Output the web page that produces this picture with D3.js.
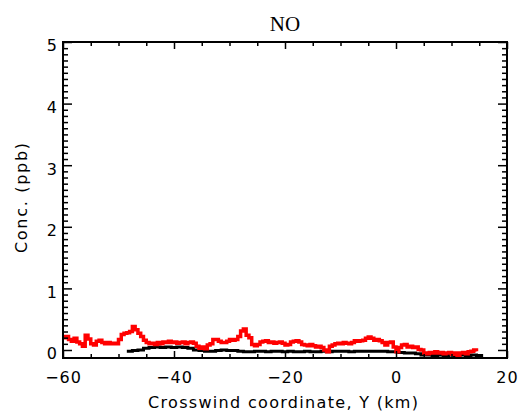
<!DOCTYPE html>
<html>
<head>
<meta charset="utf-8">
<script src="https://cdn.jsdelivr.net/npm/d3@7"></script>
<style>
  html, body { margin: 0; padding: 0; background: #fff; }
  svg { display: block; }
  .tick text { font-family: "DejaVu Sans", sans-serif; }
</style>
</head>
<body>
<svg id="chart" width="518" height="413"></svg>
<script>
// Crosswind positions (km) and NO concentrations (ppb)
const redY = d3.range(0, 150).map(i => -60 + i * 0.5);
const redConc = [
  0.20,0.22,0.17,0.14,0.19,0.13,0.10,0.06,0.24,0.18,
  0.10,0.08,0.14,0.16,0.12,0.10,0.12,0.10,0.11,0.10,
  0.17,0.25,0.27,0.28,0.30,0.38,0.33,0.27,0.22,0.16,
  0.12,0.10,0.11,0.09,0.12,0.10,0.13,0.12,0.14,0.12,
  0.13,0.11,0.12,0.13,0.10,0.12,0.13,0.11,0.06,0.03,
  0.05,0.02,0.08,0.10,
  0.17,0.17,0.14,0.12,0.12,0.14,0.17,0.16,0.17,0.22,
  0.31,0.34,0.24,0.20,0.09,0.07,0.09,0.13,0.14,0.15,
  0.12,0.13,0.11,0.12,0.13,0.11,0.08,0.09,0.13,0.14,
  0.15,0.13,0.09,0.08,0.07,0.09,0.07,0.05,0.06,0.04,
  0.00,-0.03,0.06,0.08,0.10,0.11,0.10,0.12,0.11,0.10,
  0.12,0.15,0.14,0.15,0.16,0.19,0.21,0.19,0.16,0.17,
  0.15,0.12,0.08,0.12,0.13,0.05,-0.03,0.04,0.08,0.09,
  0.05,0.06,0.04,0.05,0.01,0.00,-0.05,-0.06,-0.04,-0.05,
  -0.03,-0.05,-0.04,-0.06,-0.05,-0.04,-0.07,-0.05,-0.09,-0.05,
  -0.04,-0.06,-0.03,-0.02,0.00,-0.02
];

const blackY = [
  -48.5,-47.5,-46.5,-45.5,-44.5,-43.5,-42.5,-41.5,-40.5,-39.5,
  -38.5,-37.5,-36.5,-35.5,-34.5,-33.5,-32.5,-31.5,-30.5,-29.5,
  -28.5,-27.5,-26.5,-25.5,-24.5,-23.5,-22.5,-21.5,-20.5,-19.5,
  -18.5,-17.5,-16.5,-15.5,-14.5,-13.5,-12.5,-11.5,-10.5,-9.5,
  -8.5,-7.5,-6.5,-5.5,-4.5,-3.5,-2.5,-1.5,-0.5,0.5,
  1.5,2.5,3.5,4.5,5.5,6.5,7.5,8.5,9.5,10.5,
  11.5,12.5,13.5,14.5,15.7
];
const blackConc = [
  -0.02,-0.01,0.00,0.03,0.04,0.05,0.04,0.05,0.04,0.05,
  0.04,0.03,0.00,-0.01,-0.02,-0.02,-0.01,0.00,-0.01,-0.01,
  -0.02,-0.03,-0.03,-0.02,-0.02,-0.03,-0.02,-0.02,-0.03,-0.02,
  -0.03,-0.03,-0.02,-0.03,-0.03,-0.02,-0.03,-0.02,-0.02,-0.02,
  -0.03,-0.02,-0.02,-0.02,-0.02,-0.02,-0.02,-0.03,-0.03,-0.04,
  -0.05,-0.05,-0.06,-0.08,-0.08,-0.09,-0.08,-0.09,-0.08,-0.09,
  -0.08,-0.09,-0.08,-0.09,-0.09
];

const xMajor = [-60, -40, -20, 0, 20];
const yMajor = [0, 1, 2, 3, 4, 5];

const plot = { left: 63, right: 507, top: 42, bottom: 358 };

const svg = d3.select("#chart");

const x = d3.scaleLinear().domain([-60, 20]).range([plot.left, plot.right]);
const y = d3.scaleLinear().domain([-0.13, 5]).range([plot.bottom, plot.top]);

const xMinor = d3.range(-60, 20.01, 5).filter(v => !xMajor.includes(v));
const yMinor = d3.range(1, 50).map(i => i / 10).filter(v => Math.abs(v - Math.round(v)) > 1e-6);

// Traces, clipped to the plot box
svg.append("clipPath").attr("id", "clip")
  .append("rect")
  .attr("x", plot.left).attr("y", plot.top)
  .attr("width", plot.right - plot.left).attr("height", plot.bottom - plot.top);

const line = d3.line().curve(d3.curveStepAfter)
  .x(d => x(d[0])).y(d => y(d[1]));

const g = svg.append("g").attr("clip-path", "url(#clip)");
g.append("path")
  .datum(d3.zip(blackY, blackConc))
  .attr("d", line)
  .attr("fill", "none").attr("stroke", "#000").attr("stroke-width", 3);
g.append("path")
  .datum(d3.zip(redY, redConc))
  .attr("d", line)
  .attr("fill", "none").attr("stroke", "#ff0000").attr("stroke-width", 3.5);

// Axes on all four sides, ticks pointing inward
function styleAxis(sel) {
  sel.select(".domain").remove();
  sel.selectAll(".tick line").attr("stroke", "#000").attr("stroke-width", 1.5);
}

const bottomG = svg.append("g").attr("transform", `translate(0,${plot.bottom})`);
bottomG.append("g").call(d3.axisBottom(x).tickValues(xMajor).tickSize(-7).tickPadding(14)
  .tickFormat(d => d3.format("")(d).replace("-", "\u2212")))
  .call(styleAxis)
  .call(s => s.selectAll("text").attr("font-size", 16).attr("fill", "#000")
    .attr("letter-spacing", 1).attr("dy", "0.71em"));
bottomG.append("g").call(d3.axisBottom(x).tickValues(xMinor).tickSize(-4).tickFormat(""))
  .call(styleAxis);

const topG = svg.append("g").attr("transform", `translate(0,${plot.top})`);
topG.append("g").call(d3.axisTop(x).tickValues(xMajor).tickSize(-7).tickFormat("")).call(styleAxis);
topG.append("g").call(d3.axisTop(x).tickValues(xMinor).tickSize(-4).tickFormat("")).call(styleAxis);

const leftG = svg.append("g").attr("transform", `translate(${plot.left},0)`);
leftG.append("g").call(d3.axisLeft(y).tickValues(yMajor).tickSize(-9).tickPadding(6).tickFormat(d3.format("d")))
  .call(styleAxis)
  .call(s => s.selectAll("text").attr("font-size", 16).attr("fill", "#000").attr("dy", "0.55em"));
leftG.append("g").call(d3.axisLeft(y).tickValues(yMinor).tickSize(-5).tickFormat("")).call(styleAxis);

const rightG = svg.append("g").attr("transform", `translate(${plot.right},0)`);
rightG.append("g").call(d3.axisRight(y).tickValues(yMajor).tickSize(-9).tickFormat("")).call(styleAxis);
rightG.append("g").call(d3.axisRight(y).tickValues(yMinor).tickSize(-5).tickFormat("")).call(styleAxis);

// Frame
svg.append("rect")
  .attr("x", plot.left).attr("y", plot.top)
  .attr("width", plot.right - plot.left).attr("height", plot.bottom - plot.top)
  .attr("fill", "none").attr("stroke", "#000").attr("stroke-width", 2);

// Titles
svg.append("text")
  .attr("x", 285).attr("y", 31)
  .attr("text-anchor", "middle")
  .attr("font-family", "'Liberation Serif', 'DejaVu Serif', serif")
  .attr("font-size", 21)
  .attr("fill", "#000")
  .text("NO");

svg.append("text")
  .attr("x", 283).attr("y", 408)
  .attr("text-anchor", "middle")
  .attr("font-family", "'DejaVu Sans', sans-serif")
  .attr("font-size", 16)
  .attr("textLength", 270)
  .attr("fill", "#000")
  .text("Crosswind coordinate, Y (km)");

svg.append("text")
  .attr("transform", "translate(27,198) rotate(-90)")
  .attr("text-anchor", "middle")
  .attr("font-family", "'DejaVu Sans', sans-serif")
  .attr("font-size", 16)
  .attr("textLength", 110)
  .attr("fill", "#000")
  .text("Conc. (ppb)");
</script>
</body>
</html>
